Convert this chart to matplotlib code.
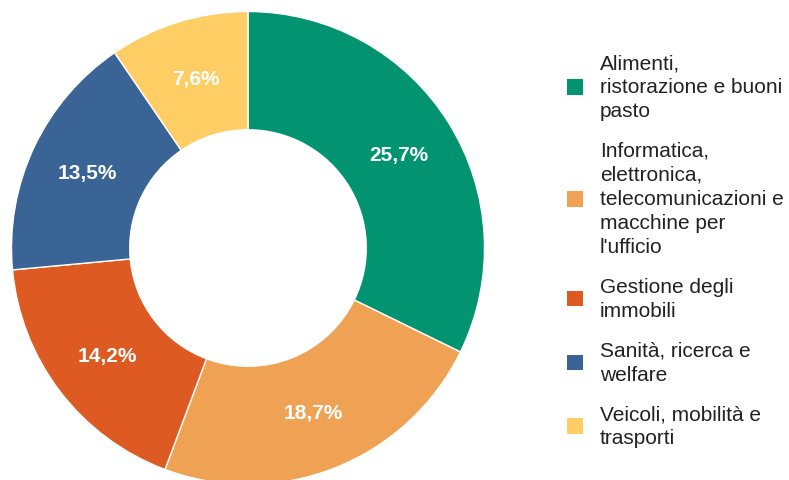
import matplotlib
matplotlib.use("Agg")
import matplotlib.pyplot as plt
from matplotlib.patches import Patch

plt.rcParams['font.family'] = ['Liberation Sans', 'DejaVu Sans']

categories = [
    "Alimenti,\nristorazione e buoni\npasto",
    "Informatica,\nelettronica,\ntelecomunicazioni e\nmacchine per\nl'ufficio",
    "Gestione degli\nimmobili",
    "Sanità, ricerca e\nwelfare",
    "Veicoli, mobilità e\ntrasporti",
]
values = [25.7, 18.7, 14.2, 13.5, 7.6]
colors = ["#029470", "#EFA253", "#DD5A22", "#3B6496", "#FECE65"]

total = sum(values)

W, H = 789, 481
fig = plt.figure(figsize=(W / 100, H / 100), dpi=100)
cx, cy, R = 248, 481 - 249, 236.5
ax = fig.add_axes([(cx - R) / W, (cy - R) / H, 2 * R / W, 2 * R / H])

def fmt(p):
    v = p * total / 100
    return f"{v:.1f}%".replace(".", ",")

wedges, texts, autotexts = ax.pie(
    values, colors=colors, startangle=90, counterclock=False, radius=1,
    wedgeprops=dict(width=0.5, edgecolor="white", linewidth=1),
    autopct=fmt, pctdistance=0.75,
    textprops=dict(color="white", fontsize=15, fontweight="bold"),
)
ax.set_xlim(-1, 1)
ax.set_ylim(-1, 1)
ax.set_aspect("equal")
ax.axis("off")

handles = [Patch(facecolor=c, edgecolor="none") for c in colors]
leg = fig.legend(handles, categories, loc="upper left",
                 bbox_to_anchor=(567 / W, 1 - 54 / H), frameon=False,
                 fontsize=15, handlelength=0.78, handleheight=0.78,
                 handletextpad=0.8, labelspacing=0.99, borderpad=0,
                 borderaxespad=0, labelcolor="#222222")
for t in leg.get_texts():
    t.set_linespacing(1.34)

fig.savefig("out.png", dpi=100)
